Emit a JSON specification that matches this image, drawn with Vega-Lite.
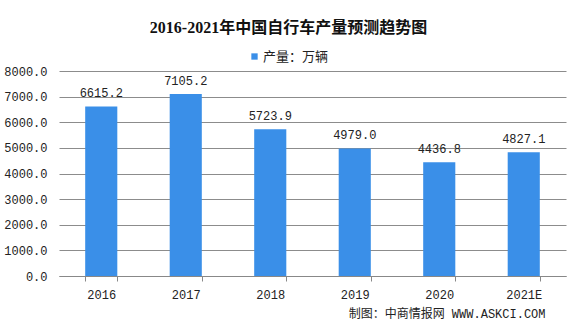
{
  "$schema": "https://vega.github.io/schema/vega-lite/v6.json",
  "autosize": "none",
  "width": 507,
  "height": 205,
  "padding": {"left": 59, "top": 71, "right": 11, "bottom": 53},
  "background": "white",
  "title": {
    "text": "2016-2021年中国自行车产量预测趋势图",
    "font": "Liberation Serif, Noto Sans CJK SC",
    "fontSize": 16,
    "fontWeight": "bold",
    "color": "#111111",
    "anchor": "middle",
    "dx": -24,
    "offset": 14
  },
  "data": {
    "values": [
      {"year": "2016", "value": 6615.2, "series": "产量：万辆"},
      {"year": "2017", "value": 7105.2, "series": "产量：万辆"},
      {"year": "2018", "value": 5723.9, "series": "产量：万辆"},
      {"year": "2019", "value": 4979.0, "series": "产量：万辆"},
      {"year": "2020", "value": 4436.8, "series": "产量：万辆"},
      {"year": "2021E", "value": 4827.1, "series": "产量：万辆"}
    ]
  },
  "encoding": {
    "x": {
      "field": "year",
      "type": "nominal",
      "sort": null,
      "scale": {"paddingInner": 0.62, "paddingOuter": 0.31},
      "axis": {
        "title": "制图：中商情报网 WWW.ASKCI.COM",
        "titleFont": "Liberation Mono, Noto Sans CJK SC",
        "titleFontSize": 12,
        "titleFontWeight": "normal",
        "titleColor": "#222222",
        "titleAnchor": "end",
        "titleAlign": "right",
        "titleBaseline": "middle",
        "titleX": 486,
        "titleY": 37,
        "labelAngle": 0,
        "labelFont": "Liberation Mono",
        "labelFontSize": 12,
        "labelColor": "#222222",
        "labelPadding": 8,
        "domainColor": "#888888",
        "tickColor": "#888888",
        "tickSize": 5,
        "tickBand": "extent",
        "grid": false
      }
    },
    "y": {
      "field": "value",
      "type": "quantitative",
      "scale": {"domain": [0, 8000]},
      "axis": {
        "title": null,
        "values": [0, 1000, 2000, 3000, 4000, 5000, 6000, 7000, 8000],
        "format": ".1f",
        "labelFont": "Liberation Mono",
        "labelFontSize": 12,
        "labelColor": "#222222",
        "labelPadding": 12,
        "domain": false,
        "ticks": false,
        "grid": true,
        "gridColor": "#8c8c8c",
        "gridWidth": 1
      }
    }
  },
  "layer": [
    {
      "mark": {"type": "bar"},
      "encoding": {
        "color": {
          "field": "series",
          "type": "nominal",
          "scale": {"range": ["#3A8FE8"]},
          "legend": {
            "title": null,
            "orient": "none",
            "legendX": 189,
            "legendY": -21,
            "symbolType": "square",
            "symbolSize": 40,
            "labelFont": "Noto Sans CJK SC",
            "labelFontSize": 13,
            "labelColor": "#222222",
            "labelOffset": 2
          }
        }
      }
    },
    {
      "mark": {"type": "text", "dy": -13, "font": "Liberation Mono", "fontSize": 12, "color": "#222222"},
      "encoding": {
        "text": {"field": "value", "type": "quantitative", "format": ".1f"}
      }
    }
  ],
  "config": {
    "view": {"stroke": null}
  }
}
